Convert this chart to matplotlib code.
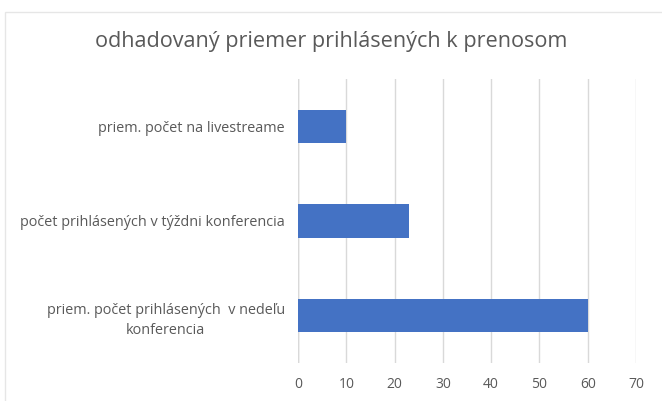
import matplotlib.pyplot as plt
from matplotlib.patches import Rectangle

# Data
categories = ['priem. počet prihlásených  v nedeľu\nkonferencia',
              'počet prihlásených v týždni konferencia',
              'priem. počet na livestreame']
values = [60, 23, 10]
ticks = [0, 10, 20, 30, 40, 50, 60, 70]

plt.rcParams['font.family'] = ['Open Sans', 'DejaVu Sans']

fig = plt.figure(figsize=(6.62, 4.01), dpi=100)
fig.patches.append(Rectangle((5 / 662, -0.1), 1.2, 1 - 12 / 401 + 0.1,
                             transform=fig.transFigure, fill=False,
                             edgecolor='#e6e6e6', linewidth=1))

ax = fig.add_axes([298 / 662, 38 / 401, 338 / 662, 284 / 401])
ax.barh(range(len(categories)), values, height=0.35, color='#4472C4', zorder=3)

ax.set_xlim(0, 70)
ax.set_ylim(-0.5, 2.5)
ax.set_xticks(ticks)
ax.set_yticks(range(len(categories)))
ax.set_yticklabels(categories, ha='right', multialignment='center', linespacing=1.5)
ax.tick_params(axis='y', length=0, pad=9.5, labelsize=10.4, colors='#595959')
ax.tick_params(axis='x', length=0, pad=10, labelsize=10, colors='#595959')
ax.grid(axis='x', color='#d9d9d9', linewidth=1, zorder=0)
for s in ax.spines.values():
    s.set_visible(False)
ax.axvline(0, color='#d0d0d0', linewidth=1, zorder=1)

fig.text(0.5, 1 - 42 / 401, 'odhadovaný priemer prihlásených k prenosom',
         ha='center', va='center', fontsize=15.6, color='#595959')

plt.savefig('out.png', dpi=100)
